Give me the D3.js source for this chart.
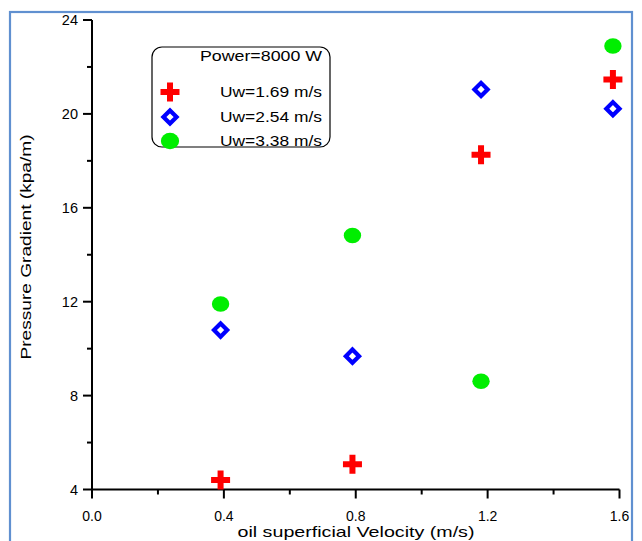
<!DOCTYPE html>
<html>
<head>
<meta charset="utf-8">
<script src="https://cdn.jsdelivr.net/npm/d3@7"></script>
<style>
  html, body { margin: 0; padding: 0; background: #fff; }
  svg { display: block; font-family: Arial, "Liberation Sans", sans-serif; }
</style>
</head>
<body>
<svg id="chart" width="642" height="541"></svg>
<script>
// Oil superficial velocity (m/s)
const velocities = [0.39, 0.79, 1.18, 1.58];
// Pressure gradient (kpa/m) for each water velocity
const uw169 = [4.40, 5.08, 18.26, 21.47];
const uw254 = [10.79, 9.68, 21.04, 20.22];
const uw338 = [11.90, 14.82, 8.61, 22.89];

const seriesNames = ["Uw=1.69 m/s", "Uw=2.54 m/s", "Uw=3.38 m/s"];
const xTicks = [0.0, 0.4, 0.8, 1.2, 1.6];
const yTicks = [4, 8, 12, 16, 20, 24];

const series = [
  { name: seriesNames[0], values: uw169, shape: "cross", color: "#ff0000" },
  { name: seriesNames[1], values: uw254, shape: "diamond", color: "#0000ff" },
  { name: seriesNames[2], values: uw338, shape: "circle", color: "#00ee00" }
];

const svg = d3.select("#chart");

// outer frame
svg.append("rect")
  .attr("x", 10).attr("y", 12).attr("width", 622).attr("height", 560)
  .attr("fill", "none").attr("stroke", "#6090d0").attr("stroke-width", 2.2);

const x = d3.scaleLinear().domain([0, 1.6]).range([92, 619.5]);
const y = d3.scaleLinear().domain([4, 24]).range([489.5, 20]);

// x axis
const xAxis = svg.append("g").attr("transform", `translate(0,${y(4)})`);
xAxis.append("line").attr("x1", x(0)).attr("x2", x(1.6)).attr("stroke", "#000").attr("stroke-width", 2);
xAxis.selectAll(".xmaj").data(xTicks).join("line")
  .attr("x1", d => x(d)).attr("x2", d => x(d)).attr("y1", 0).attr("y2", 9)
  .attr("stroke", "#000").attr("stroke-width", 2);
xAxis.selectAll(".xmin").data(d3.range(0.2, 1.6, 0.4)).join("line")
  .attr("x1", d => x(d)).attr("x2", d => x(d)).attr("y1", 0).attr("y2", 5)
  .attr("stroke", "#000").attr("stroke-width", 2);
xAxis.selectAll("text").data(xTicks).join("text")
  .attr("x", d => x(d)).attr("y", 31.5).attr("text-anchor", "middle")
  .attr("font-size", 14).text(d => d.toFixed(1));

// y axis
const yAxis = svg.append("g").attr("transform", `translate(${x(0)},0)`);
yAxis.append("line").attr("y1", y(4)).attr("y2", y(24)).attr("stroke", "#000").attr("stroke-width", 2);
yAxis.selectAll(".ymaj").data(yTicks).join("line")
  .attr("y1", d => y(d)).attr("y2", d => y(d)).attr("x1", 0).attr("x2", -9)
  .attr("stroke", "#000").attr("stroke-width", 2);
yAxis.selectAll(".ymin").data(d3.range(6, 24, 4)).join("line")
  .attr("y1", d => y(d)).attr("y2", d => y(d)).attr("x1", 0).attr("x2", -5)
  .attr("stroke", "#000").attr("stroke-width", 2);
yAxis.selectAll("text").data(yTicks).join("text")
  .attr("x", -14).attr("y", d => y(d) + 5).attr("text-anchor", "end")
  .attr("font-size", 14.5).text(d => d);

// axis titles
svg.append("text").attr("x", 356).attr("y", 537).attr("text-anchor", "middle")
  .attr("font-size", 15).attr("textLength", 237).attr("lengthAdjust", "spacingAndGlyphs")
  .text("oil superficial Velocity (m/s)");
svg.append("text").attr("transform", "translate(31,247) rotate(-90)")
  .attr("text-anchor", "middle").attr("font-size", 15.5)
  .attr("textLength", 225).attr("lengthAdjust", "spacingAndGlyphs")
  .text("Pressure Gradient (kpa/m)");

// marker drawing
function drawMarker(g, shape, color, cx, cy, s) {
  s = s || 1;
  if (shape === "cross") {
    const a = 9.5 * s, t = 3 * s;
    g.append("path")
      .attr("d", `M${cx - t},${cy - a}H${cx + t}V${cy - t}H${cx + a}V${cy + t}H${cx + t}V${cy + a}H${cx - t}V${cy + t}H${cx - a}V${cy - t}H${cx - t}Z`)
      .attr("fill", color);
  } else if (shape === "diamond") {
    const r = 6.6 * s;
    g.append("path")
      .attr("d", `M${cx},${cy - r}L${cx + r},${cy}L${cx},${cy + r}L${cx - r},${cy}Z`)
      .attr("fill", "none").attr("stroke", color).attr("stroke-width", 4.2);
  } else {
    g.append("ellipse").attr("cx", cx).attr("cy", cy)
      .attr("rx", 8.7 * s).attr("ry", 7.8 * s).attr("fill", color);
  }
}

// data points
const pts = svg.append("g");
series.forEach(sr => {
  sr.values.forEach((v, i) => drawMarker(pts, sr.shape, sr.color, x(velocities[i]), y(v)));
});

// legend
const lg = svg.append("g");
lg.append("rect").attr("x", 152).attr("y", 47).attr("width", 178).attr("height", 100)
  .attr("rx", 10).attr("fill", "#fff").attr("stroke", "#000").attr("stroke-width", 1.2);
lg.append("text").attr("x", 322).attr("y", 61).attr("text-anchor", "end")
  .attr("font-size", 14).attr("textLength", 122).attr("lengthAdjust", "spacingAndGlyphs")
  .text("Power=8000 W");
const rowY = [92, 117, 141];
series.forEach((sr, i) => {
  drawMarker(lg, sr.shape, sr.color, 170, rowY[i], sr.shape === "circle" ? 1.05 : 1);
  lg.append("text").attr("x", 322).attr("y", rowY[i] + 5).attr("text-anchor", "end")
    .attr("font-size", 14).attr("textLength", 102).attr("lengthAdjust", "spacingAndGlyphs")
    .text(sr.name);
});
</script>
</body>
</html>
